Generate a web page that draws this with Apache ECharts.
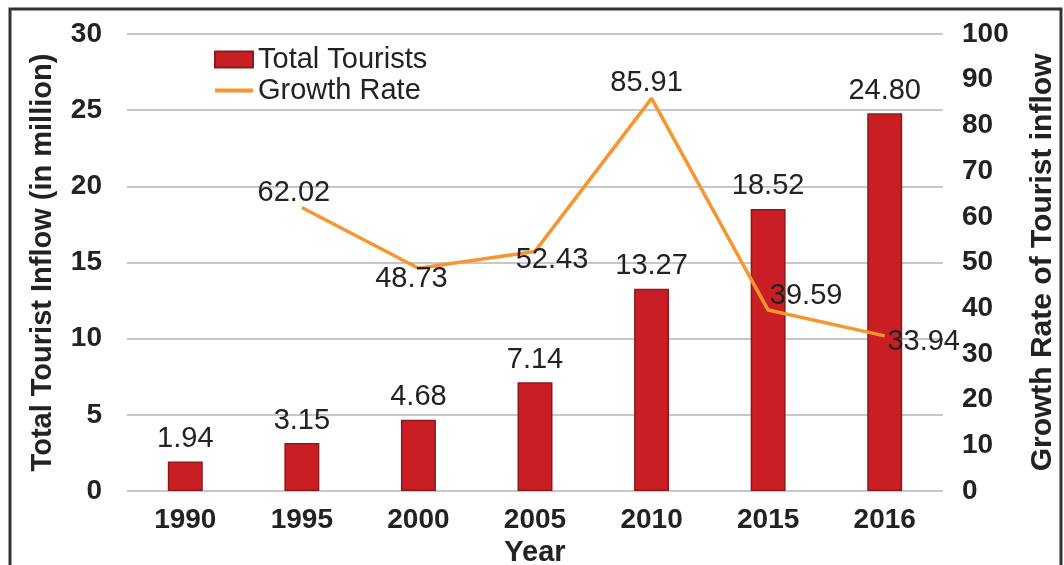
<!DOCTYPE html>
<html><head><meta charset="utf-8">
<script src="https://cdn.jsdelivr.net/npm/echarts@6/dist/echarts.min.js"></script>
<style>html,body{margin:0;padding:0;background:#fff}#c{width:1064px;height:565px}</style>
</head><body><div id="c"></div>
<script>
const years = ['1990','1995','2000','2005','2010','2015','2016'];
const totalTourists = [1.94, 3.15, 4.68, 7.14, 13.27, 18.52, 24.80];
const growthRate = [null, 62.02, 48.73, 52.43, 85.91, 39.59, 33.94];
const growthLabelOffset = [null, [-8, -15], [-7, 11], [17, 9], [-5, -15], [38, -14], [39, 6]];

const chart = echarts.init(document.getElementById('c'));
const font = 'Liberation Sans, Arial, sans-serif';
const txt = '#222';
chart.setOption({
  animation: false,
  textStyle: {fontFamily: font},
  graphic: [{type: 'rect', shape: {x: 10, y: 9, width: 1051, height: 570}, style: {fill: 'none', stroke: '#333', lineWidth: 3}, z: 100}],
  grid: {left: 127, right: 121, top: 34, bottom: 74, outerBoundsMode: 'none', containLabel: false},
  legend: {
    orient: 'vertical', left: 208, top: 40, itemWidth: 38, itemHeight: 16, itemGap: 2,
    textStyle: {fontSize: 29, color: txt, fontFamily: font},
    data: [{name: 'Total Tourists', icon: 'rect'}, {name: 'Growth Rate', itemStyle: {opacity: 0}, lineStyle: {width: 4}}]
  },
  xAxis: {
    type: 'category', data: years,
    name: 'Year', nameLocation: 'middle', nameGap: 41,
    nameTextStyle: {fontSize: 29, fontWeight: 'bold', color: txt},
    axisLine: {show: false}, axisTick: {show: false},
    axisLabel: {fontSize: 28, fontWeight: 'bold', color: txt, margin: 15}
  },
  yAxis: [{
    type: 'value', min: 0, max: 30, interval: 5,
    name: 'Total Tourist Inflow (in million)', nameLocation: 'middle', nameRotate: 90, nameGap: 70,
    nameTextStyle: {fontSize: 29, fontWeight: 'bold', color: txt},
    axisLine: {show: false}, axisTick: {show: false},
    axisLabel: {fontSize: 28, fontWeight: 'bold', color: txt, margin: 25},
    splitLine: {lineStyle: {color: '#c6c6cb', width: 2}}
  }, {
    type: 'value', min: 0, max: 100, interval: 10, position: 'right',
    name: 'Growth Rate of Tourist inflow', nameLocation: 'middle', nameRotate: 90, nameGap: 85,
    nameTextStyle: {fontSize: 30, fontWeight: 'bold', color: txt},
    axisLine: {show: false}, axisTick: {show: false},
    axisLabel: {fontSize: 28, fontWeight: 'bold', color: txt, margin: 19},
    splitLine: {show: false}
  }],
  series: [{
    name: 'Total Tourists', type: 'bar', data: totalTourists, barWidth: '30%',
    itemStyle: {color: '#c81e24', borderColor: '#8a1a1c', borderWidth: 1.5},
    label: {show: true, position: 'top', distance: 8, fontSize: 29, color: txt, formatter: p => p.value.toFixed(2)}
  }, {
    name: 'Growth Rate', type: 'line', yAxisIndex: 1, symbol: 'none', z: 5,
    lineStyle: {color: '#f7962f', width: 3.5}, itemStyle: {color: '#f7962f'},
    data: growthRate
  }, {
    name: 'Growth Rate labels', type: 'scatter', yAxisIndex: 1, symbolSize: 0, z: 6,
    silent: true, tooltip: {show: false},
    itemStyle: {color: 'rgba(0,0,0,0)', opacity: 1},
    data: growthRate.map((v, i) => v == null ? null : ({
      value: [years[i], v],
      label: {show: true, position: 'inside', offset: growthLabelOffset[i],
        fontSize: 29, color: txt, opacity: 1, formatter: p => p.value[1].toFixed(2)}
    }))
  }]
});
</script></body></html>
